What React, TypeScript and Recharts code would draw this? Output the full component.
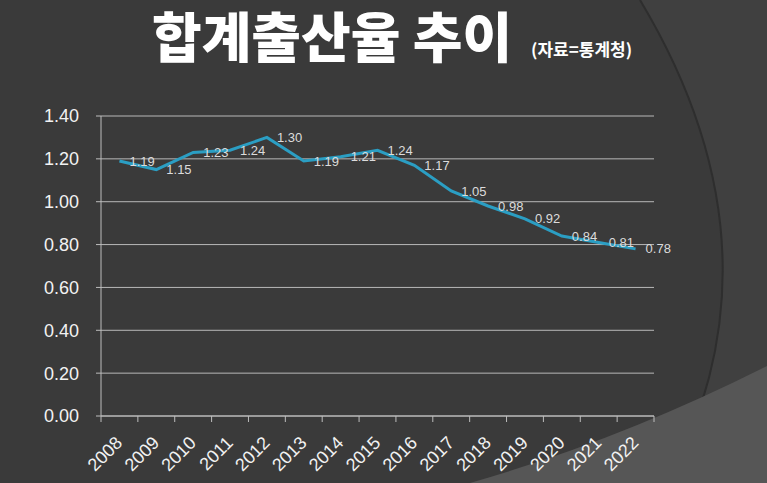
import React from "react";
import { LineChart, Line, XAxis, YAxis, CartesianGrid, LabelList } from "recharts";

const years = ["2008", "2009", "2010", "2011", "2012", "2013", "2014", "2015", "2016", "2017", "2018", "2019", "2020", "2021", "2022"];
const rates = [1.19, 1.15, 1.23, 1.24, 1.30, 1.19, 1.21, 1.24, 1.17, 1.05, 0.98, 0.92, 0.84, 0.81, 0.78];
const yTicks = [0, 0.2, 0.4, 0.6, 0.8, 1.0, 1.2, 1.4];

// each year sits in the middle of its slot; ticks mark the slot edges
const chartData = years.map((y, i) => ({ pos: i + 0.5, year: y, rate: rates[i] }));
const bounds = [...years.map((_, i) => i), years.length];

const font = "Arial, 'Liberation Sans', sans-serif";
const krFont = "'Noto Sans CJK KR', sans-serif";
const plotW = 553;
const half = plotW / years.length / 2;

function YearTick(props: any) {
  const { x, y, payload } = props;
  const label = years[payload.value];
  if (!label) return <g />;
  const tx = x + half + 4;
  const ty = y + 20;
  return (
    <text
      x={tx}
      y={ty}
      transform={`rotate(-45 ${tx} ${ty})`}
      textAnchor="end"
      fill="#f2f2f2"
      fontSize={18}
      fontFamily={font}
    >
      {label}
    </text>
  );
}

function Backdrop() {
  return (
    <svg width={767} height={483} style={{ position: "absolute", left: 0, top: 0 }}>
      <rect width={767} height={483} fill="#3a3a3a" />
      <path d="M640,0 Q790,250 668,483 L767,483 L767,0 Z" fill="#404040" />
      <path d="M640,0 Q790,250 668,483" fill="none" stroke="#2e2e2e" strokeWidth={2} />
      <path d="M470,483 Q620,440 767,366 L767,483 Z" fill="#565656" />
      <text x={152} y={57.5} fill="#fff" fontFamily={krFont} fontWeight={900} fontSize={54}>
        합계출산율 추이
      </text>
      <text x={531} y={56} fill="#fff" fontFamily={krFont} fontWeight={700} fontSize={17}>
        (자료=통계청)
      </text>
    </svg>
  );
}

export default function App() {
  return (
    <div style={{ position: "absolute", left: 0, top: 0, width: 767, height: 483, overflow: "hidden" }}>
      <Backdrop />
      <div style={{ position: "absolute", left: 0, top: 0 }}>
        <LineChart width={767} height={483} data={chartData} margin={{ top: 116, right: 113, bottom: 0, left: 0 }}>
          <CartesianGrid vertical={false} stroke="#b8b8b8" strokeWidth={1} />
          <XAxis
            dataKey="pos"
            type="number"
            domain={[0, years.length]}
            ticks={bounds}
            interval={0}
            height={67}
            stroke="#bdbdbd"
            tickSize={6}
            tick={<YearTick />}
          />
          <YAxis
            width={101}
            domain={[0, 1.4]}
            ticks={yTicks}
            interval={0}
            stroke="#bdbdbd"
            tickSize={5}
            tickFormatter={(v: number) => v.toFixed(2)}
            tick={{ fill: "#f2f2f2", fontSize: 18, fontFamily: font, dx: -15 }}
          />
          <Line dataKey="rate" stroke="#2b9ec3" strokeWidth={3} dot={false} isAnimationActive={false}>
            <LabelList
              dataKey="rate"
              position="right"
              offset={10}
              formatter={(v: number) => v.toFixed(2)}
              style={{ fill: "#dcdcdc", fontSize: 13, fontFamily: font }}
            />
          </Line>
        </LineChart>
      </div>
    </div>
  );
}
